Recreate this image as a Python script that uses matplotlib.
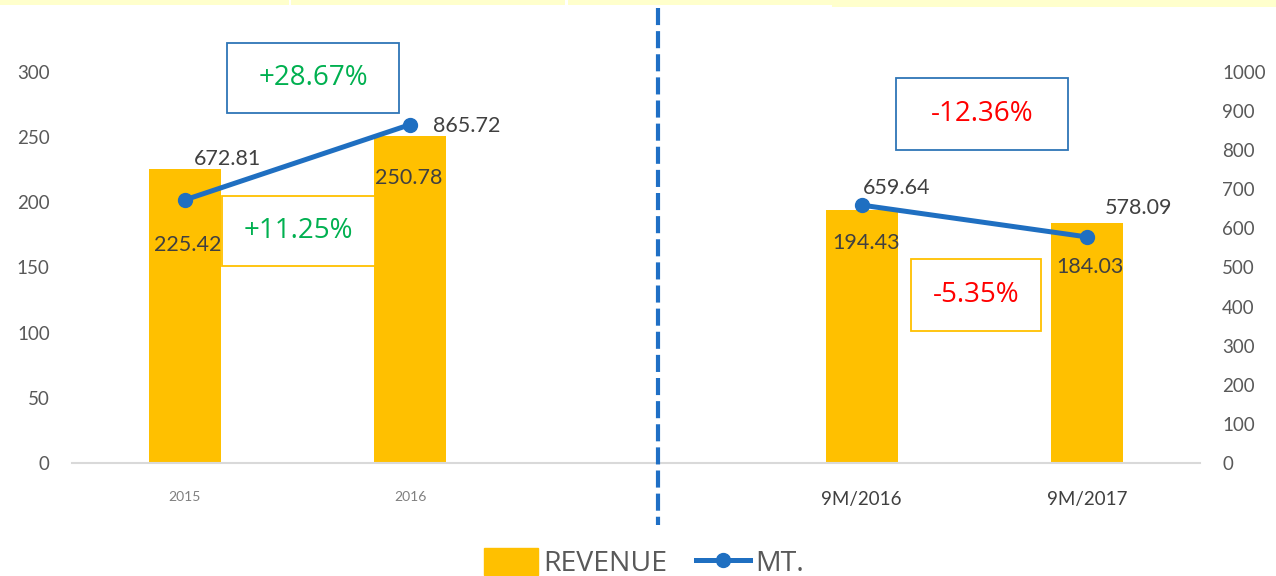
import matplotlib
matplotlib.use("Agg")
import matplotlib.pyplot as plt
from matplotlib.patches import Rectangle, Patch
from matplotlib.lines import Line2D

# data
categories = ["2015", "2016", "", "9M/2016", "9M/2017"]
revenue = [225.42, 250.78, None, 194.43, 184.03]
mt = [672.81, 865.72, None, 659.64, 578.09]
pct_boxes = ["+28.67%", "+11.25%", "-12.36%", "-5.35%"]

yellow = "#FFC000"
blue = "#1F6FC1"
grey = "#595959"
dark = "#404040"

plt.rcParams["font.family"] = ["Lato", "DejaVu Sans"]

fig = plt.figure(figsize=(12.76, 5.76), dpi=100)
ax = fig.add_axes([72 / 1276, 1 - 463 / 576, 1128 / 1276, 391 / 576])
ax2 = ax.twinx()

# bars
bx = [i for i, v in enumerate(revenue) if v is not None]
bv = [v for v in revenue if v is not None]
ax.bar(bx, bv, width=0.32, color=yellow, zorder=2)
ax.set_xlim(-0.5, 4.5)
ax.set_ylim(0, 300)
ax.set_yticks(range(0, 301, 50))

# line in two pieces
ax2.plot([0, 1], mt[0:2], color=blue, lw=3.6, marker="o", ms=10, zorder=3)
ax2.plot([3, 4], mt[3:5], color=blue, lw=3.6, marker="o", ms=10, zorder=3)
ax2.set_ylim(0, 1000)
ax2.set_yticks(range(0, 1001, 100))

for a in (ax, ax2):
    for s in a.spines.values():
        s.set_visible(False)
    a.tick_params(length=0, labelsize=13.5, labelcolor=grey, pad=16)
ax.spines["bottom"].set_visible(True)
ax.spines["bottom"].set_color("#D9D9D9")
ax.spines["bottom"].set_linewidth(1.5)

ax.set_xticks(bx)
ax.set_xticklabels([categories[i] for i in bx])
for i, t in zip(bx, ax.get_xticklabels()):
    if i < 2:
        t.set_fontsize(10)
        t.set_color("#7F7F7F")
    else:
        t.set_fontsize(13.5)
        t.set_color(dark)
ax.tick_params(axis="x", pad=20)

# data labels, offsets in pixels from the mark
kw = dict(fontsize=15.5, color=dark, ha="center", va="center", zorder=5,
          textcoords="offset pixels")
bar_off = {0: (3, -76), 1: (-2, -42), 3: (5, -33), 4: (3, -44)}
for i, off in bar_off.items():
    ax.annotate(f"{revenue[i]:.2f}", (i, revenue[i]), xytext=off, **kw)
line_off = {0: (43, 41), 1: (56, -1), 3: (35, 17), 4: (51, 29)}
for i, off in line_off.items():
    ax2.annotate(f"{mt[i]:.2f}", (i, mt[i]), xytext=off, **kw)

# percentage boxes (pixel placement)
def pbox(x0, y0, x1, y1, edge, text, tcolor):
    w, h = 1276, 576
    fig.patches.append(Rectangle((x0 / w, 1 - y1 / h), (x1 - x0) / w, (y1 - y0) / h,
                                 transform=fig.transFigure, fill=True, facecolor="white",
                                 edgecolor=edge, lw=1.3, zorder=6))
    fig.text((x0 + x1) / 2 / w, 1 - (y0 + y1) / 2 / h, text, fontsize=20, color=tcolor,
             ha="center", va="center", family=["Open Sans", "DejaVu Sans"], zorder=7)

green = "#00B050"
red = "#FF0000"
pbox(227, 43, 399, 113, "#2E75B6", pct_boxes[0], green)
pbox(222, 196, 375, 266, yellow, pct_boxes[1], green)
pbox(896, 78, 1068, 150, "#2E75B6", pct_boxes[2], red)
pbox(911, 259, 1041, 331, yellow, pct_boxes[3], red)

# dashed separator
fig.add_artist(Line2D([658 / 1276, 658 / 1276], [1 - 8 / 576, 1 - 525 / 576],
                      color="#1F6FC5", lw=3, linestyle=(0, (4.1, 1.45))))

# top strip
for x0, x1, hh in [(0, 289, 5), (291, 565, 5), (568, 832, 5), (832, 1276, 7)]:
    fig.patches.append(Rectangle((x0 / 1276, 1 - hh / 576), (x1 - x0) / 1276, hh / 576,
                                 transform=fig.transFigure, color="#FFFFCC", lw=0))

# legend
handles = [Patch(color=yellow),
           Line2D([], [], color=blue, lw=3.6, marker="o", ms=10)]
leg = fig.legend(handles, ["REVENUE", "MT."], loc="center",
                 bbox_to_anchor=(0.5 + 6 / 1276, 1 - 563 / 576),
                 ncol=2, frameon=False, handlelength=1.9, handleheight=1.1,
                 columnspacing=1.0, handletextpad=0.2, prop={"family": "Open Sans", "size": 20.5})
for t in leg.get_texts():
    t.set_color(grey)

fig.savefig("out.png", dpi=100)
